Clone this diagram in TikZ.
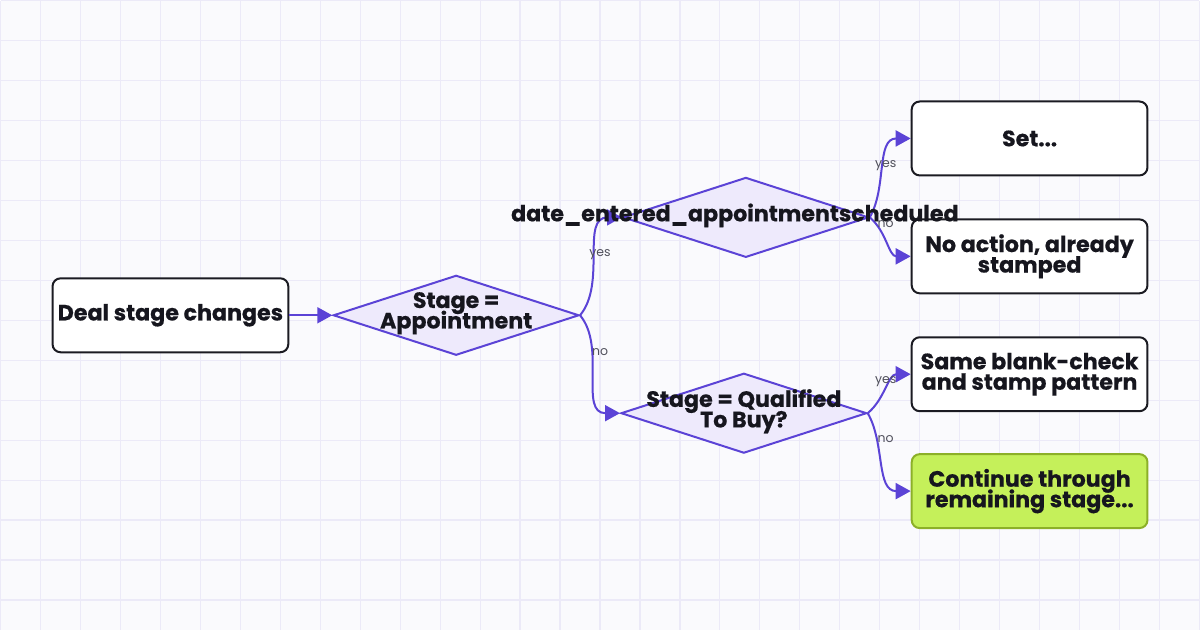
\documentclass[tikz,border=0pt]{standalone}
\usepackage{fontspec}
\setmainfont{Poppins}[BoldFeatures={FakeBold=0.6}]
\usetikzlibrary{shapes.geometric,arrows.meta}
\definecolor{bgc}{RGB}{250,250,253}
\definecolor{gridc}{RGB}{236,234,248}
\definecolor{edgec}{RGB}{91,67,214}
\definecolor{dfill}{RGB}{238,234,252}
\definecolor{boxline}{RGB}{27,27,34}
\definecolor{txtc}{RGB}{22,22,30}
\definecolor{limefill}{RGB}{197,240,90}
\definecolor{limeline}{RGB}{140,176,40}
\definecolor{lblc}{RGB}{80,80,92}
\newcommand\mytightls{\lineskiplimit=-20pt\relax\lineskip=0pt\relax}
\begin{document}
\begin{tikzpicture}[x=1pt,y=1pt,
  box/.style={draw=boxline, line width=2pt, rounded corners=8pt, fill=white,
    minimum width=236pt, minimum height=74pt, inner sep=0pt, align=center,
    font=\bfseries\fontsize{22.2}{20.5}\selectfont\mytightls, text=txtc},
  greenbox/.style={box, fill=limefill, draw=limeline},
  dec/.style={diamond, draw=edgec, fill=dfill, line width=2pt,
    minimum width=246pt, minimum height=80pt, inner sep=0pt},
  dectext/.style={align=center, inner sep=0pt, text=txtc,
    font=\bfseries\fontsize{22.2}{20.5}\selectfont\mytightls},
  edge/.style={draw=edgec, line width=2pt, -{Triangle[length=15pt,width=16pt]}},
  lbl/.style={text=lblc, font=\fontsize{12.5}{12.5}\selectfont, inner sep=0pt}
]
% background and grid
\fill[bgc] (0,0) rectangle (1200,-630);
\foreach \gx in {0,40,...,1200} \draw[gridc, line width=1.2pt] (\gx,0) -- (\gx,-630);
\foreach \gy in {0,40,...,600} \draw[gridc, line width=1.2pt] (0,-\gy) -- (1200,-\gy);
\useasboundingbox (0,0) rectangle (1200,-630);

% nodes
\node[box] (start) at (170,-315) {Deal stage changes};
\node[dec] (d1) at (456,-315) {};
\node[dec] (d2) at (746,-217) {};
\node[dec] (d3) at (744,-413) {};
\node[box] (set) at (1030,-138) {Set...};
\node[box] (noact) at (1030,-256) {No action, already\\stamped};
\node[box] (same) at (1030,-374) {Same blank-check\\and stamp pattern};
\node[greenbox] (cont) at (1030,-491) {Continue through\\remaining stage...};

% edges
\draw[edge] (start.east) -- (d1.west);
\draw[edge] (d1.east) to[out=50,in=180] (d2.west);
\draw[edge] (d1.east) to[out=-50,in=180] (d3.west);
\draw[edge] (d2.east) to[out=60,in=180] (set.west);
\draw[edge] (d2.east) to[out=-40,in=180] (noact.west);
\draw[edge] (d3.east) to[out=40,in=180] (same.west);
\draw[edge] (d3.east) to[out=-60,in=180] (cont.west);

% diamond texts (drawn above the edges)
\node[dectext] (t1) at (456,-313) {Stage =\\Appointment};
\node[dectext] (t2) at (735,-215) {date\_entered\_appointmentscheduled};
\node[dectext] (t3) at (744,-411) {Stage = Qualified\\To Buy?};

% edge labels
\node[lbl] (l1) at (600,-254) {yes};
\node[lbl] (l2) at (600,-352) {no};
\node[lbl] (l3) at (886,-165) {yes};
\node[lbl] (l4) at (886,-224) {no};
\node[lbl] (l5) at (886,-381) {yes};
\node[lbl] (l6) at (886,-439) {no};
\end{tikzpicture}
\end{document}
